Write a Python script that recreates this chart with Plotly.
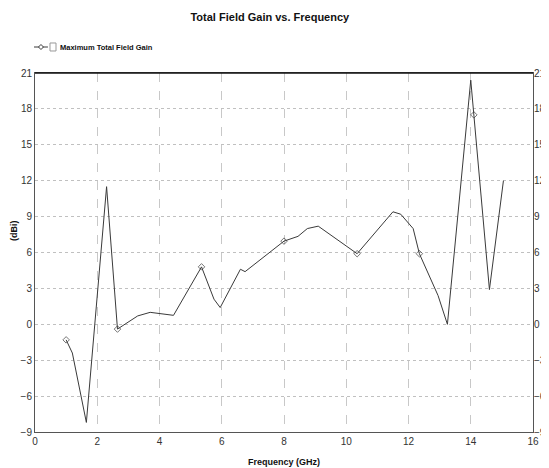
import plotly.graph_objects as go

# Data
freq_ghz = [1.0, 1.2, 1.65, 2.3, 2.65, 3.3, 3.7, 4.1, 4.45, 5.35, 5.75, 5.95,
            6.6, 6.75, 8.0, 8.45, 8.75, 9.1, 10.35, 11.5, 11.75, 12.15, 12.35,
            12.95, 13.25, 14.0, 14.1, 14.6, 15.05]
gain_dbi = [-1.3, -2.4, -8.2, 11.5, -0.4, 0.7, 1.0, 0.9, 0.75, 4.8, 2.1, 1.4,
            4.6, 4.4, 6.95, 7.35, 8.0, 8.2, 5.9, 9.4, 9.2, 8.0, 5.9,
            2.4, 0.0, 20.4, 17.5, 2.9, 12.0]
marked_freqs = [1.0, 2.65, 5.35, 8.0, 10.35, 12.35, 14.1]
y_ticks = [-9, -6, -3, 0, 3, 6, 9, 12, 15, 18, 21]
x_ticks = [0, 2, 4, 6, 8, 10, 12, 14, 16]

series_name = "Maximum Total Field Gain"
title_text = "Total Field Gain vs. Frequency"
x_title = "Frequency (GHz)"
y_title = "(dBi)"

FONT = "Liberation Sans Narrow, Liberation Sans, Arial, sans-serif"
LINE_COLOR = "#3a3a3a"

marker_sizes = [5 if f in marked_freqs else 0 for f in freq_ghz]

fig = go.Figure()
fig.add_trace(go.Scatter(
    x=freq_ghz, y=gain_dbi, mode="lines+markers", name=series_name,
    line=dict(color=LINE_COLOR, width=1),
    marker=dict(symbol="diamond-open", size=marker_sizes, color=LINE_COLOR,
                line=dict(width=1, color=LINE_COLOR)),
    showlegend=False,
))
# invisible trace to anchor the mirrored right axis
fig.add_trace(go.Scatter(x=freq_ghz, y=gain_dbi, yaxis="y2", mode="lines",
                         line=dict(width=0), opacity=0, showlegend=False,
                         hoverinfo="skip"))

tickfont = dict(family=FONT, size=10, color="#333")

# the page body adds an 8px offset, so the figure is sized to fit the window
fig.update_layout(
    width=541, height=460,
    paper_bgcolor="white", plot_bgcolor="white",
    margin=dict(l=27, r=16, t=65, b=36, autoexpand=False),
    title=dict(text="<b>" + title_text + "</b>", x=0.484, xanchor="center",
               y=0.980, yanchor="middle",
               font=dict(family=FONT, size=11, color="#111")),
    showlegend=False,
    xaxis=dict(range=[0, 16], tickvals=x_ticks, tickfont=tickfont,
               showgrid=True, gridcolor="#c8c8c8", griddash="dash", gridwidth=1,
               showline=True, linecolor="#555", linewidth=1, mirror=True,
               zeroline=False, ticks="", automargin=False),
    yaxis=dict(range=[-9, 21], tickvals=y_ticks, tickfont=tickfont,
               showgrid=True, gridcolor="#c0c0c0", griddash="dot", gridwidth=1,
               showline=True, linecolor="#555", linewidth=1, mirror=True,
               zeroline=False, ticks="", automargin=False),
    yaxis2=dict(range=[-9, 21], tickvals=y_ticks, tickfont=tickfont,
                overlaying="y", side="right", showgrid=False, zeroline=False,
                showline=False, ticks="", automargin=False),
)

# axis titles
fig.add_annotation(text="<b>" + x_title + "</b>", xref="paper", yref="paper",
                   x=0.5, y=-0.0836, showarrow=False,
                   xanchor="center", yanchor="middle",
                   font=dict(family=FONT, size=9, color="#111"))
fig.add_annotation(text="<b>" + y_title + "</b>", xref="paper", yref="paper",
                   x=-0.042, y=0.56, textangle=-90, showarrow=False,
                   xanchor="center", yanchor="middle",
                   font=dict(family=FONT, size=9, color="#111"))

# heavier top frame line
fig.add_shape(type="line", xref="paper", yref="paper", x0=0, x1=1, y0=1, y1=1,
              line=dict(color="#111", width=1.5))

# manual legend: line sample with diamond, checkbox, label
fig.add_shape(type="line", xref="paper", yref="paper",
              x0=-0.002, x1=0.026, y0=1.0724, y1=1.0724,
              line=dict(color=LINE_COLOR, width=1))
fig.add_shape(type="path", xref="paper", yref="paper",
              path="M 0.012,1.0794 L 0.017,1.0724 L 0.012,1.0654 L 0.007,1.0724 Z",
              line=dict(color=LINE_COLOR, width=1), fillcolor="white")
fig.add_shape(type="rect", xref="paper", yref="paper",
              x0=0.0301, x1=0.0422, y0=1.0613, y1=1.0836,
              line=dict(color="#999", width=1), fillcolor="white")
fig.add_annotation(text="<b>" + series_name + "</b>", xref="paper", yref="paper",
                   x=0.0462, y=1.0724, xanchor="left", yanchor="middle",
                   showarrow=False, font=dict(family=FONT, size=7.5, color="#111"))

fig.write_html("out.html")
